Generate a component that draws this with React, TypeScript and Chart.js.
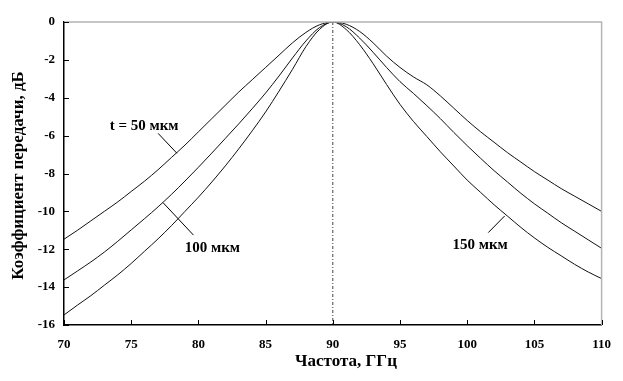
import React, { useEffect, useRef } from "react";
import { Chart, registerables } from "chart.js";

Chart.register(...registerables);

const freqGHz = [70, 71, 72, 73, 74, 75, 76, 77, 78, 79, 80, 81, 82, 83, 84, 85, 86, 87, 88, 89, 90, 91, 92, 93, 94, 95, 96, 97, 98, 99, 100, 101, 102, 103, 104, 105, 106, 107, 108, 109, 110];

const t50 = [-11.47, -11.0, -10.5, -10.0, -9.5, -8.95, -8.4, -7.8, -7.15, -6.5, -5.8, -5.1, -4.4, -3.7, -3.05, -2.4, -1.75, -1.1, -0.55, -0.15, 0, -0.12, -0.5, -1.1, -1.8, -2.4, -2.9, -3.32, -3.9, -4.55, -5.2, -5.8, -6.35, -6.9, -7.4, -7.9, -8.35, -8.8, -9.2, -9.6, -10.0];
const t100 = [-13.62, -13.15, -12.67, -12.15, -11.58, -10.98, -10.38, -9.76, -9.1, -8.4, -7.67, -6.92, -6.15, -5.38, -4.58, -3.75, -2.85, -1.9, -1.0, -0.3, 0, -0.25, -0.85, -1.6, -2.4, -3.15, -3.77, -4.42, -5.1, -5.83, -6.53, -7.2, -7.85, -8.45, -9.05, -9.6, -10.1, -10.6, -11.05, -11.5, -11.95];
const t150 = [-15.47, -14.95, -14.45, -13.9, -13.35, -12.75, -12.1, -11.45, -10.75, -10.0, -9.25, -8.45, -7.6, -6.7, -5.75, -4.75, -3.65, -2.5, -1.3, -0.4, 0, -0.4, -1.2, -2.2, -3.3, -4.35, -5.25, -6.05, -6.85, -7.6, -8.35, -9.0, -9.65, -10.25, -10.85, -11.4, -11.9, -12.35, -12.8, -13.2, -13.55];

const centerFreq = 90;
const xTicks = [70, 75, 80, 85, 90, 95, 100, 105, 110];
const yTicks = [0, -2, -4, -6, -8, -10, -12, -14, -16];

const xTitle = "Частота, ГГц";
const yTitle = "Коэффициент передачи, дБ";

// annotation labels: text, label position (data), leader from, leader to (data)
const labelTexts = ["t = 50 мкм", "100 мкм", "150 мкм"];
const labelPos = [[75.96, -5.48], [81.04, -11.95], [100.96, -11.77]];
const leaderFrom = [[77.0, -5.88], [77.37, -9.54], [102.79, -10.24]];
const leaderTo = [[78.4, -6.93], [79.63, -11.25], [101.57, -11.12]];

const SERIF = "'Liberation Serif', 'Times New Roman', serif";

export default function App() {
  const ref = useRef<HTMLCanvasElement | null>(null);

  useEffect(() => {
    document.body.style.margin = "0";
    const canvas = ref.current;
    if (!canvas) return;

    const mk = (vals: number[]) => freqGHz.map((f, i) => ({ x: f, y: vals[i] }));
    const lineDs = (label: string, vals: number[]) => ({
      label,
      data: mk(vals),
      showLine: true,
      borderColor: "#111",
      borderWidth: 1,
      pointRadius: 0,
      fill: false,
      cubicInterpolationMode: "monotone" as const,
    });

    const decor = {
      id: "decor",
      afterDatasetsDraw(chart: any) {
        const ctx = chart.ctx;
        const xs = chart.scales.x;
        const ys = chart.scales.y;
        const a = chart.chartArea;
        ctx.save();
        // top & right gray frame
        ctx.strokeStyle = "#b4b4b4";
        ctx.lineWidth = 1.5;
        ctx.beginPath();
        ctx.moveTo(a.left, a.top);
        ctx.lineTo(a.right, a.top);
        ctx.lineTo(a.right, a.bottom);
        ctx.stroke();
        // inward ticks
        ctx.strokeStyle = "#000";
        ctx.lineWidth = 1;
        ctx.beginPath();
        xTicks.forEach((v) => {
          const px = Math.round(xs.getPixelForValue(v)) + 0.5;
          ctx.moveTo(px, a.bottom);
          ctx.lineTo(px, a.bottom - 5);
        });
        yTicks.forEach((v) => {
          const py = Math.round(ys.getPixelForValue(v)) + 0.5;
          ctx.moveTo(a.left, py);
          ctx.lineTo(a.left + 5, py);
        });
        ctx.stroke();
        // leaders
        ctx.beginPath();
        leaderFrom.forEach((p, i) => {
          ctx.moveTo(xs.getPixelForValue(p[0]), ys.getPixelForValue(p[1]));
          ctx.lineTo(xs.getPixelForValue(leaderTo[i][0]), ys.getPixelForValue(leaderTo[i][1]));
        });
        ctx.stroke();
        // labels
        ctx.fillStyle = "#000";
        ctx.font = `bold 15px ${SERIF}`;
        ctx.textAlign = "center";
        ctx.textBaseline = "middle";
        labelTexts.forEach((t, i) => {
          ctx.fillText(t, xs.getPixelForValue(labelPos[i][0]), ys.getPixelForValue(labelPos[i][1]));
        });
        // axis titles
        ctx.font = `bold 17px ${SERIF}`;
        ctx.fillText(xTitle, 346, 362);
        ctx.save();
        ctx.translate(19, (a.top + a.bottom) / 2 + 2);
        ctx.rotate(-Math.PI / 2);
        ctx.fillText(yTitle, 0, 0);
        ctx.restore();
        ctx.restore();
      },
    };

    const chart = new Chart(canvas, {
      type: "scatter",
      data: {
        datasets: [
          lineDs("t = 50 мкм", t50),
          lineDs("100 мкм", t100),
          lineDs("150 мкм", t150),
          {
            label: "f0",
            data: [{ x: centerFreq, y: 0 }, { x: centerFreq, y: -16 }],
            showLine: true,
            borderColor: "#444",
            borderWidth: 1,
            borderDash: [3, 2, 1, 2],
            pointRadius: 0,
          } as any,
        ],
      },
      options: {
        animation: false,
        responsive: false,
        maintainAspectRatio: false,
        layout: { padding: { top: 22, right: 15, left: 0, bottom: 0 } },
        plugins: { legend: { display: false }, tooltip: { enabled: false } },
        scales: {
          x: {
            type: "linear",
            min: 70,
            max: 110,
            afterFit: (s: any) => { s.height = 56; },
            afterBuildTicks: (s: any) => { s.ticks = xTicks.map((v) => ({ value: v })); },
            grid: { display: false, drawTicks: false },
            border: { display: true, color: "#000", width: 1.5 },
            ticks: {
              color: "#000",
              padding: 12,
              font: { family: SERIF, size: 13, weight: "bold" },
              callback: (v: any) => String(v),
            },
          },
          y: {
            type: "linear",
            min: -16,
            max: 0,
            afterFit: (s: any) => { s.width = 64; },
            afterBuildTicks: (s: any) => { s.ticks = yTicks.map((v) => ({ value: v })); },
            grid: { display: false, drawTicks: false },
            border: { display: true, color: "#000", width: 1.5 },
            ticks: {
              color: "#000",
              padding: 9,
              font: { family: SERIF, size: 13, weight: "bold" },
              callback: (v: any) => String(v),
            },
          },
        },
      },
      plugins: [decor],
    });
    return () => chart.destroy();
  }, []);

  return <canvas ref={ref} width={623} height={381} style={{ display: "block" }} />;
}
